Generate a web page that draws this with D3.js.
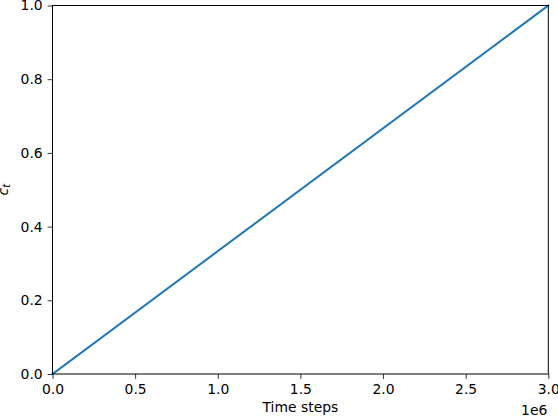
<!DOCTYPE html>
<html>
<head>
<meta charset="utf-8">
<script src="https://cdn.jsdelivr.net/npm/d3@7"></script>
<style>
  body { margin: 0; background: #fff; }
  text { font-family: "DejaVu Sans", sans-serif; fill: #000; }
</style>
</head>
<body>
<svg id="chart" width="558" height="418"></svg>
<script>
// data
var timeSteps = [0, 3000000];
var ctValues = [0, 1];
var xTicks = [0, 0.5e6, 1e6, 1.5e6, 2e6, 2.5e6, 3e6];
var yTicks = [0, 0.2, 0.4, 0.6, 0.8, 1.0];

var W = 558, H = 418;
var m = { left: 52.5, right: 9.7, top: 5.5, bottom: 44 };
var fs = "13.9px";

var svg = d3.select("#chart");

var x = d3.scaleLinear().domain([0, 3e6]).range([m.left, W - m.right]);
var y = d3.scaleLinear().domain([0, 1]).range([H - m.bottom, m.top]);

// axes
var xAxis = d3.axisBottom(x).tickValues(xTicks).tickSize(4.9).tickPadding(4.9)
  .tickFormat(function (d) { return (d / 1e6).toFixed(1); });
var yAxis = d3.axisLeft(y).tickValues(yTicks).tickSize(4.9).tickPadding(4.9)
  .tickFormat(d3.format(".1f"));

var gx = svg.append("g").attr("transform", "translate(0," + (H - m.bottom) + ")").call(xAxis);
var gy = svg.append("g").attr("transform", "translate(" + m.left + ",0)").call(yAxis);

[gx, gy].forEach(function (g) {
  g.select(".domain").remove();
  g.selectAll("text").style("font-size", fs).style("font-family", "DejaVu Sans");
  g.selectAll("line").attr("stroke", "#000").attr("stroke-width", 0.8);
});

// line
var line = d3.line()
  .x(function (d, i) { return x(timeSteps[i]); })
  .y(function (d) { return y(d); });

svg.append("path")
  .datum(ctValues)
  .attr("d", line)
  .attr("fill", "none")
  .attr("stroke", "#1f77b4")
  .attr("stroke-width", 2)
  .attr("stroke-linecap", "square");

// frame
svg.append("rect")
  .attr("x", m.left).attr("y", m.top)
  .attr("width", W - m.right - m.left).attr("height", H - m.bottom - m.top)
  .attr("fill", "none").attr("stroke", "#000").attr("stroke-width", 1);

// labels
svg.append("text")
  .attr("x", (m.left + W - m.right) / 2).attr("y", 412)
  .attr("text-anchor", "middle").style("font-size", fs)
  .text("Time steps");

svg.append("text")
  .attr("x", W - m.right - 1).attr("y", 415)
  .attr("text-anchor", "end").style("font-size", fs)
  .text("1e6");

var yl = svg.append("text")
  .attr("transform", "translate(7.5," + ((m.top + H - m.bottom) / 2) + ") rotate(-90)")
  .attr("text-anchor", "middle").style("font-size", fs);
yl.append("tspan").style("font-style", "italic").text("c");
yl.append("tspan").attr("dy", 2.5).style("font-size", "9.7px").style("font-style", "italic").text("t");
</script>
</body>
</html>
